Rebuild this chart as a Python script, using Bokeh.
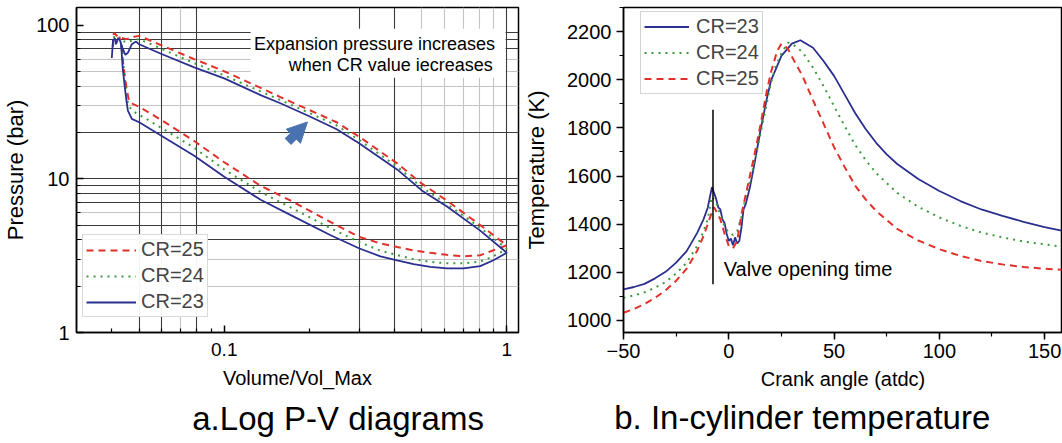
from bokeh.plotting import figure
from bokeh.layouts import row
from bokeh.models import (FixedTicker, SingleIntervalTicker, NumeralTickFormatter, Grid,
                          Legend, LegendItem, Label, Arrow, NormalHead, Range1d, BoxAnnotation,
                          LinearAxis, CustomJSTickFormatter)
from bokeh.embed import file_html
from bokeh.resources import INLINE

FONT = "Liberation Sans"
BLUE = "#2b2f8f"
GREEN = "#3b9b3b"
RED = "#e2312b"
ARROW_C = "#4a72b0"

# ---------------- panel a: log P-V data ----------------
pv_vol_cr23 = [0.0400, 0.0404, 0.0410, 0.0414, 0.0421, 0.0427, 0.0436, 0.0447, 0.0456, 0.0471, 0.0487,
               0.0500, 0.0597, 0.0783, 0.1000, 0.1345, 0.1580, 0.2000, 0.2500, 0.3000, 0.4090, 0.5000, 0.6140, 0.8050, 1.0000,
               0.8970, 0.8050, 0.7030, 0.6140, 0.5360, 0.4680, 0.4090, 0.3570, 0.3010, 0.2380, 0.1720, 0.1345, 0.1000, 0.0783, 0.0597, 0.0500,
               0.0471, 0.0456, 0.0451, 0.0445, 0.0437, 0.0433, 0.0430]
pv_p_cr23 = [61, 79.6, 82, 75, 82, 79.6, 71, 64, 66, 75, 78,
             75, 65, 53, 45, 35, 31, 25.5, 21, 17, 11.5, 8.4, 6.6, 4.6, 3.3,
             2.95, 2.70, 2.61, 2.61, 2.67, 2.78, 2.95, 3.13, 3.52, 4.29, 5.8, 7.3, 10.3, 14.1, 19.1, 23.3,
             24.5, 27.7, 32, 39, 53, 68, 78]

pv_vol_cr24 = [0.0404, 0.0409, 0.0420, 0.0450, 0.0480,
               0.0500, 0.0597, 0.0783, 0.1000, 0.1345, 0.1580, 0.2000, 0.2500, 0.3000, 0.4090, 0.5000, 0.6140, 0.8050, 1.0000,
               0.8970, 0.8050, 0.7030, 0.6140, 0.5360, 0.4680, 0.4090, 0.3570, 0.3010, 0.2380, 0.1720, 0.1345, 0.1000, 0.0783, 0.0597, 0.0500,
               0.0474, 0.0458, 0.0450, 0.0442, 0.0435, 0.0428]
pv_p_cr24 = [74, 86, 82, 77, 80,
             81, 70.3, 56.5, 47, 37, 32.5, 26.8, 22.2, 17.9, 12.0, 8.8, 6.85, 4.8, 3.5,
             3.13, 2.89, 2.82, 2.82, 2.88, 3.00, 3.19, 3.41, 3.87, 4.76, 6.5, 8.2, 11.5, 15.9, 21.5, 26.1,
             27.5, 30, 36, 50, 70, 80]

pv_vol_cr25 = [0.0403, 0.0407, 0.0420, 0.0450, 0.0480,
               0.0500, 0.0597, 0.0783, 0.1000, 0.1345, 0.1580, 0.2000, 0.2500, 0.3000, 0.4090, 0.5000, 0.6140, 0.8050, 1.0000,
               0.8970, 0.8050, 0.7030, 0.6140, 0.5360, 0.4680, 0.4090, 0.3570, 0.3010, 0.2380, 0.1720, 0.1345, 0.1000, 0.0783, 0.0597, 0.0500,
               0.0476, 0.0460, 0.0451, 0.0440, 0.0433, 0.0425]
pv_p_cr25 = [72, 89, 84, 81, 84,
             85, 74, 60, 50, 39, 34, 28, 23.3, 18.8, 12.6, 9.3, 7.2, 5.0, 3.69,
             3.43, 3.18, 3.13, 3.20, 3.30, 3.42, 3.60, 3.80, 4.18, 5.23, 7.2, 9.0, 12.8, 17.6, 24.2, 29.4,
             30.6, 32, 39, 53, 75, 84]

pv_x_ticks = [0.1, 1]
pv_x_minor = [0.04, 0.05, 0.06, 0.07, 0.08, 0.09, 0.2, 0.3, 0.4, 0.5, 0.6, 0.7, 0.8, 0.9]
pv_y_ticks = [1, 10, 100]
pv_y_minor = [2, 3, 4, 5, 6, 7, 8, 9, 20, 30, 40, 50, 60, 70, 80, 90]
grid_dark_x = [0.05, 0.06, 0.08, 0.3, 0.4, 1.0]
grid_light_x = [0.07, 0.5, 0.6, 0.7, 0.8, 0.9]
grid_dark_y = [4, 5, 7, 8, 9, 10, 20, 70, 80, 90]
grid_light_y = [2, 3, 6, 30, 40, 50, 60]

# ---------------- panel b: temperature data ----------------
ca_cr23 = [-50, -45, -40, -35, -30, -25, -20, -15, -12, -10,
           -8, -7, -6, -5, -4, -3, -2, -1, 0, 1,
           2, 3, 4, 5, 6, 7, 8, 10, 12, 15,
           18, 20, 25, 30, 34, 40, 45, 50, 55, 60,
           65, 70, 75, 80, 90, 100, 110, 120, 130, 140,
           150, 158]
temp_cr23 = [1129, 1139, 1152, 1175, 1202, 1240, 1288, 1364, 1420, 1468,
             1554, 1530, 1505, 1470, 1461, 1420, 1405, 1360, 1330, 1340,
             1312, 1345, 1320, 1330, 1385, 1461, 1482, 1551, 1641, 1787,
             1919, 1995, 2099, 2150, 2164, 2133, 2078, 2016, 1939, 1862,
             1795, 1738, 1690, 1650, 1588, 1538, 1496, 1461, 1434, 1410,
             1388, 1373]

ca_cr24 = [-50, -45, -40, -35, -30, -25, -20, -15, -12, -10,
           -8, -6, -4, -2, 0, 2, 4, 6, 8, 10,
           12, 15, 18, 20, 22, 25, 28, 30, 35, 40,
           45, 50, 55, 60, 65, 70, 80, 90, 100, 110,
           120, 130, 140, 150, 158]
temp_cr24 = [1094, 1104, 1117, 1136, 1160, 1195, 1240, 1310, 1370, 1420,
             1515, 1490, 1440, 1390, 1365, 1355, 1370, 1430, 1510, 1575,
             1650, 1773, 1900, 1985, 2050, 2110, 2154, 2150, 2115, 2050,
             1974, 1890, 1808, 1730, 1666, 1612, 1530, 1472, 1428, 1393,
             1365, 1345, 1328, 1316, 1306]

ca_cr25 = [-50, -45, -40, -35, -30, -25, -20, -15, -12, -10,
           -8, -7, -6, -4, -2, 0, 2, 4, 6, 8,
           10, 12, 15, 18, 20, 23, 25, 28, 30, 35,
           40, 45, 50, 55, 60, 65, 70, 80, 90, 100,
           110, 120, 130, 140, 150, 158]
temp_cr25 = [1032, 1048, 1068, 1094, 1125, 1165, 1215, 1290, 1350, 1400,
             1450, 1470, 1455, 1420, 1360, 1310, 1300, 1330, 1440, 1520,
             1600, 1680, 1810, 1950, 2030, 2120, 2150, 2130, 2095, 2016,
             1915, 1818, 1720, 1638, 1560, 1503, 1455, 1380, 1332, 1296,
             1268, 1247, 1233, 1222, 1215, 1211]

valve_ca = -7.5
valve_temp = [1150, 1875]

captions = ["a.Log P-V diagrams", "b. In-cylinder temperature"]


def style_axis(ax, inward, label_size, tick_size):
    ax.axis_line_width = 1.5
    ax.axis_line_color = "black"
    ax.major_tick_line_width = 1.5
    ax.minor_tick_line_width = 1.2
    if inward:
        ax.major_tick_in, ax.major_tick_out = 7, 0
        ax.minor_tick_in, ax.minor_tick_out = 4, 0
    else:
        ax.major_tick_in, ax.major_tick_out = 0, 7
        ax.minor_tick_in, ax.minor_tick_out = 0, 4
    ax.major_label_text_font = FONT
    ax.major_label_text_font_size = tick_size
    ax.major_label_text_color = "black"
    ax.axis_label_text_font = FONT
    ax.axis_label_text_font_style = "normal"
    ax.axis_label_text_font_size = label_size
    ax.axis_label_text_color = "black"


def add_caption(p, text, center_x, standoff):
    # an extra, line-less axis below the plot whose single tick label is the caption
    cap = LinearAxis(ticker=FixedTicker(ticks=[center_x], minor_ticks=[]),
                     formatter=CustomJSTickFormatter(code="return %r;" % text),
                     axis_line_color=None, major_tick_line_color=None, minor_tick_line_color=None,
                     major_tick_in=0, major_tick_out=0, minor_tick_in=0, minor_tick_out=0,
                     major_label_standoff=standoff, major_label_text_font=FONT,
                     major_label_text_font_size="33px", major_label_text_color="black")
    p.add_layout(cap, "below")


# ---------------- figure a ----------------
p1 = figure(width=520, height=443, x_axis_type="log", y_axis_type="log",
            x_range=Range1d(0.03, 1.1), y_range=Range1d(1, 130),
            output_backend="svg", toolbar_location=None, tools="",
            min_border_left=76, min_border_right=2, min_border_top=7, min_border_bottom=111)
p1.grid.visible = False
p1.outline_line_color = "black"
p1.outline_line_width = 1.5
p1.outline_line_alpha = 1.0

p1.xaxis.ticker = FixedTicker(ticks=pv_x_ticks, minor_ticks=pv_x_minor)
p1.yaxis.ticker = FixedTicker(ticks=pv_y_ticks, minor_ticks=pv_y_minor)
p1.xaxis.formatter = NumeralTickFormatter(format="0.[0]")
p1.yaxis.formatter = NumeralTickFormatter(format="0")
style_axis(p1.xaxis[0], True, "20px", "19px")
style_axis(p1.yaxis[0], True, "22px", "20px")
p1.xaxis.axis_label = "Volume/Vol_Max"
p1.yaxis.axis_label = "Pressure (bar)"
p1.xaxis.major_label_standoff = 10
p1.xaxis.axis_label_standoff = 8
p1.yaxis.major_label_standoff = 7
p1.yaxis.axis_label_standoff = 5

for ticks, color, dim in ((grid_light_x, "#c4c4c4", 0), (grid_light_y, "#c4c4c4", 1),
                          (grid_dark_x, "#3c3c3c", 0), (grid_dark_y, "#3c3c3c", 1)):
    p1.add_layout(Grid(dimension=dim, ticker=FixedTicker(ticks=ticks),
                       grid_line_color=color, grid_line_width=1.1), "center")

r25 = p1.line(pv_vol_cr25, pv_p_cr25, line_color=RED, line_width=2, line_dash="7 5")
r24 = p1.line(pv_vol_cr24, pv_p_cr24, line_color=GREEN, line_width=2, line_dash="2 5")
r23 = p1.line(pv_vol_cr23, pv_p_cr23, line_color=BLUE, line_width=1.8)

# white box behind the annotation text
p1.add_layout(BoxAnnotation(left=0.124, right=0.99, top=94.4, bottom=45.4,
                            fill_color="white", fill_alpha=1.0, line_color=None))
p1.add_layout(Label(x=0.909, y=75.4, text="Expansion pressure increases",
                    text_align="right", text_baseline="middle", text_font=FONT,
                    text_font_size="18px", text_color="black"))
p1.add_layout(Label(x=0.892, y=55.1, text="when CR value iecreases",
                    text_align="right", text_baseline="middle", text_font=FONT,
                    text_font_size="18px", text_color="black"))

p1.add_layout(Arrow(end=NormalHead(size=20, fill_color=ARROW_C, line_color=ARROW_C),
                    x_start=0.168, y_start=17.4, x_end=0.197, y_end=23.4,
                    line_color=ARROW_C, line_width=9))

leg1 = Legend(items=[LegendItem(label="CR=25", renderers=[r25]),
                     LegendItem(label="CR=24", renderers=[r24]),
                     LegendItem(label="CR=23", renderers=[r23])],
              location=(6, 15), label_text_font=FONT, label_text_font_size="20px",
              label_height=22, glyph_height=22, glyph_width=50, label_standoff=5,
              spacing=3, padding=3, margin=0,
              border_line_color="#b4b4b4", border_line_width=1, background_fill_color="white")
p1.add_layout(leg1)
add_caption(p1, captions[0], 0.2529, 8)

# ---------------- figure b ----------------
p2 = figure(width=542, height=443, x_range=Range1d(-50, 158.5), y_range=Range1d(950, 2300),
            output_backend="svg", toolbar_location=None, tools="",
            min_border_left=103, min_border_right=0, min_border_top=7, min_border_bottom=111)
p2.grid.visible = False
p2.outline_line_color = "black"
p2.outline_line_width = 1.5
p2.outline_line_alpha = 1.0
p2.xaxis.ticker = SingleIntervalTicker(interval=50, num_minor_ticks=2)
p2.yaxis.ticker = SingleIntervalTicker(interval=200, num_minor_ticks=2)
style_axis(p2.xaxis[0], False, "20px", "20px")
style_axis(p2.yaxis[0], False, "22px", "20px")
p2.xaxis.axis_label = "Crank angle (atdc)"
p2.yaxis.axis_label = "Temperature (K)"
p2.xaxis.major_label_standoff = 4
p2.xaxis.axis_label_standoff = 7
p2.yaxis.major_label_standoff = 5
p2.yaxis.axis_label_standoff = 15

t23 = p2.line(ca_cr23, temp_cr23, line_color=BLUE, line_width=1.8)
t24 = p2.line(ca_cr24, temp_cr24, line_color=GREEN, line_width=2, line_dash="2 5")
t25 = p2.line(ca_cr25, temp_cr25, line_color=RED, line_width=2, line_dash="7 5")

p2.segment(x0=[valve_ca], y0=[valve_temp[0]], x1=[valve_ca], y1=[valve_temp[1]],
           line_color="black", line_width=1.5)
p2.add_layout(Label(x=-2.4, y=1212, text="Valve opening time", text_font=FONT,
                    text_font_size="20px", text_color="black", text_baseline="middle"))

leg2 = Legend(items=[LegendItem(label="CR=23", renderers=[t23]),
                     LegendItem(label="CR=24", renderers=[t24]),
                     LegendItem(label="CR=25", renderers=[t25])],
              location=(17, 238), label_text_font=FONT, label_text_font_size="20px",
              label_height=23, glyph_height=23, glyph_width=45, label_standoff=7,
              spacing=3, padding=3, margin=0,
              border_line_color="#a8a8a8", border_line_width=1, background_fill_color="white")
p2.add_layout(leg2)
add_caption(p2, captions[1], 34.9, 6)

layout = row(p1, p2)
open("out.html", "w").write(file_html(layout, INLINE))
